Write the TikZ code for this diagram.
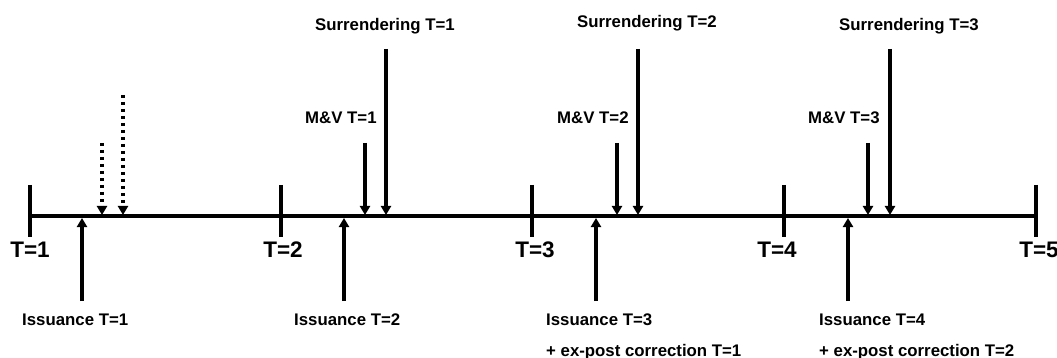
\documentclass[tikz,border=0pt]{standalone}
\usepackage{fontspec}
\setmainfont{Liberation Sans}
\usetikzlibrary{arrows.meta}
\begin{document}
\begin{tikzpicture}[x=1pt,y=-1pt,
  axis/.style={line width=3.2pt},
  tickmark/.style={line width=3.2pt},
  evt/.style={line width=3.2pt,-{Triangle[width=10pt,length=9pt]}},
  dotevt/.style={evt,dash pattern=on 3.5pt off 3.5pt},
  big/.style={font=\fontsize{22.5}{27}\selectfont\bfseries,inner sep=0pt,anchor=base},
  lbl/.style={font=\fontsize{16.8}{20}\selectfont\bfseries,inner sep=0pt,anchor=base west}]
\useasboundingbox (0,0) rectangle (1057,358);

% time axis
\coordinate (axisL) at (30,216);
\coordinate (axisR) at (1036,216);
\draw[axis] (axisL) -- (axisR);

% period ticks and their labels
\foreach \i/\x/\lx in {1/30/30,2/281/283,3/532/535,4/784/777,5/1036/1039}{
  \coordinate (tick\i top) at (\x,185);
  \coordinate (tick\i bot) at (\x,237);
  \draw[tickmark] (tick\i top) -- (tick\i bot);
  \node[big] (T\i) at (\lx,257) {T=\i};
}

% issuance events (from below)
\foreach \i/\x/\tx in {1/82/22,2/344/294,3/596/546,4/848/819}{
  \coordinate (iss\i tail) at (\x,301);
  \coordinate (iss\i head) at (\x,218);
  \draw[evt] (iss\i tail) -- (iss\i head);
  \node[lbl] (iss\i) at (\tx,325) {Issuance T=\i};
}
\node[lbl] (corr1) at (546,356) {+ ex-post correction T=1};
\node[lbl] (corr2) at (819,356) {+ ex-post correction T=2};

% M&V events (from above)
\foreach \i/\x/\tx in {1/365/305,2/617/557,3/868/808}{
  \coordinate (mv\i tail) at (\x,143);
  \coordinate (mv\i head) at (\x,215);
  \draw[evt] (mv\i tail) -- (mv\i head);
  \node[lbl] (mv\i) at (\tx,124) {M\&V T=\i};
}

% surrendering events (from above)
\foreach \i/\x/\tx/\ty in {1/386/315/31,2/638/577/28,3/890/839/31}{
  \coordinate (sur\i tail) at (\x,49);
  \coordinate (sur\i head) at (\x,215);
  \draw[evt] (sur\i tail) -- (sur\i head);
  \node[lbl] (sur\i) at (\tx,\ty) {Surrendering T=\i};
}

% dotted events in the first period
\coordinate (d1tail) at (102,143);
\coordinate (d1head) at (102,215);
\coordinate (d2tail) at (123,95);
\coordinate (d2head) at (123,215);
\draw[dotevt] (d1tail) -- (d1head);
\draw[dotevt] (d2tail) -- (d2head);
\end{tikzpicture}
\end{document}
